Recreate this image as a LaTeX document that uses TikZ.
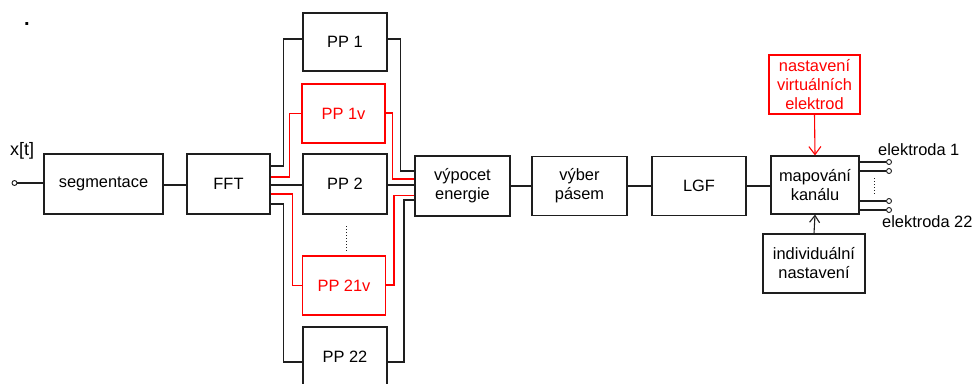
\documentclass[tikz,border=0pt]{standalone}
\usepackage{fontspec}
\setmainfont{Liberation Sans}
\usetikzlibrary{arrows.meta}
\definecolor{ln}{RGB}{30,30,30}
\definecolor{rd}{RGB}{255,0,0}
\begin{document}
\begin{tikzpicture}[x=1pt,y=-1pt,
  every node/.style={font=\fontsize{16.4}{19}\selectfont},
  blk/.style={draw=ln,line width=1.1pt,align=center,inner sep=0pt},
  rblk/.style={blk,draw=rd,text=rd},
  wire/.style={draw=ln,line width=1.1pt},
  rwire/.style={draw=rd,line width=1.1pt},
  term/.style={circle,draw=ln,line width=0.9pt,minimum size=5pt,inner sep=0pt,fill=white},
  dotline/.style={draw=ln,line width=1pt,dash pattern=on 1pt off 2pt},
  tip/.style={-{Straight Barb[length=8pt,width=12pt,line width=1.1pt]}},
  smalltip/.style={-{Straight Barb[length=7pt,width=10pt,line width=1.1pt]}}
]
\useasboundingbox (0,0) rectangle (973,383);

\node[anchor=base,font=\fontsize{20}{20}\selectfont\bfseries] (dot) at (27,25) {.};
\node[anchor=west,inner sep=0pt,font=\fontsize{18}{20}\selectfont] (xt) at (10,151) {x[t]};

\node[blk,minimum width=119pt,minimum height=60pt] (seg) at (103.5,184) {segmentace};
\node[blk,minimum width=83pt,minimum height=60pt] (fft) at (228.5,184) {FFT};

\node[blk,minimum width=84pt,minimum height=58pt] (pp1) at (345,42) {PP 1};
\node[rblk,minimum width=83pt,minimum height=59pt] (pp1v) at (343.5,113.5) {PP 1v};
\node[blk,minimum width=84pt,minimum height=60pt] (pp2) at (345,184) {PP 2};
\node[rblk,minimum width=83pt,minimum height=59pt] (pp21v) at (344,285.5) {PP 21v};
\node[blk,minimum width=84pt,minimum height=60pt,text depth=0pt] (pp22) at (345,357) {PP 22};

\node[blk,minimum width=95pt,minimum height=60pt] (vyp) at (462.5,186) {výpocet\\energie};
\node[blk,minimum width=95pt,minimum height=59pt] (vyb) at (579.5,186) {výber\\pásem};
\node[blk,minimum width=94pt,minimum height=59pt] (lgf) at (699,186) {LGF};
\node[blk,minimum width=88pt,minimum height=58pt] (map) at (815,185) {mapování\\kanálu};
\node[rblk,minimum width=91pt,minimum height=59pt] (nv) at (814.5,84.5) {nastavení\\virtuálních\\elektrod};
\node[blk,minimum width=102pt,minimum height=59pt] (ind) at (814,263.5) {individuální\\nastavení};

% input
\node[term] (in) at (14.5,183) {};
\draw[wire] (in) -- (in -| seg.west);
\draw[wire] ([yshift=-1pt]seg.east) -- ([yshift=-1pt]fft.west);

% FFT to PP blocks
\draw[wire] ([yshift=18pt]fft.east) -| ([xshift=-19pt,yshift=3pt]pp1.west) -- ([yshift=3pt]pp1.west);
\draw[rwire] ([yshift=7pt]fft.east) -| ([xshift=-12pt]pp1v.west) -- (pp1v.west);
\draw[wire] ([yshift=-1pt]fft.east) -- ([yshift=-1pt]pp2.west);
\draw[rwire] ([yshift=-10pt]fft.east) -| ([xshift=-9.5pt]pp21v.west) -- (pp21v.west);
\draw[wire] ([yshift=-20pt]fft.east) -| ([xshift=-19pt,yshift=-5pt]pp22.west) -- ([yshift=-5pt]pp22.west);

% PP blocks to vypocet
\draw[wire] ([yshift=3pt]pp1.east) -| ([xshift=-14pt,yshift=15pt]vyp.west) -- ([yshift=15pt]vyp.west);
\draw[rwire] ([yshift=0.5pt]pp1v.east) -| ([xshift=-22pt,yshift=7pt]vyp.west) -- ([yshift=7pt]vyp.west);
\draw[wire] ([yshift=-1pt]pp2.east) -- ([yshift=-1pt]pp2.east -| vyp.west);
\draw[rwire] ([yshift=0.5pt]pp21v.east) -| ([xshift=-20.5pt,yshift=-9.5pt]vyp.west) -- ([yshift=-9.5pt]vyp.west);
\draw[wire] ([yshift=-5pt]pp22.east) -| ([xshift=-10.5pt,yshift=-14pt]vyp.west) -- ([yshift=-14pt]vyp.west);

% vertical dots
\coordinate (d1) at (346,226);
\coordinate (d2) at (346,251);
\draw[dotline] (d1) -- (d2);

% chain
\draw[wire] (vyp) -- (vyb);
\draw[wire] (vyb) -- (lgf);
\draw[wire] (lgf.east) -- (lgf.east -| map.west);

% settings arrows
\draw[rwire,tip] (nv.south) -- (map.north);
\draw[wire,smalltip] (ind.north) -- (map.south);

% outputs
\node[term] (o1) at (889,162) {};
\node[term] (o2) at (889,171) {};
\node[term] (o3) at (889,201) {};
\node[term] (o4) at (889,210) {};
\draw[wire] (o1 -| map.east) -- (o1);
\draw[wire] (o2 -| map.east) -- (o2);
\draw[wire] (o3 -| map.east) -- (o3);
\draw[wire] (o4 -| map.east) -- (o4);
\coordinate (e1) at (874,178);
\coordinate (e2) at (874,194);
\draw[dotline] (e1) -- (e2);

\node[anchor=west,inner sep=0pt] (el1) at (878,150) {elektroda 1};
\node[anchor=west,inner sep=0pt] (el22) at (882,222) {elektroda 22};
\end{tikzpicture}
\end{document}
